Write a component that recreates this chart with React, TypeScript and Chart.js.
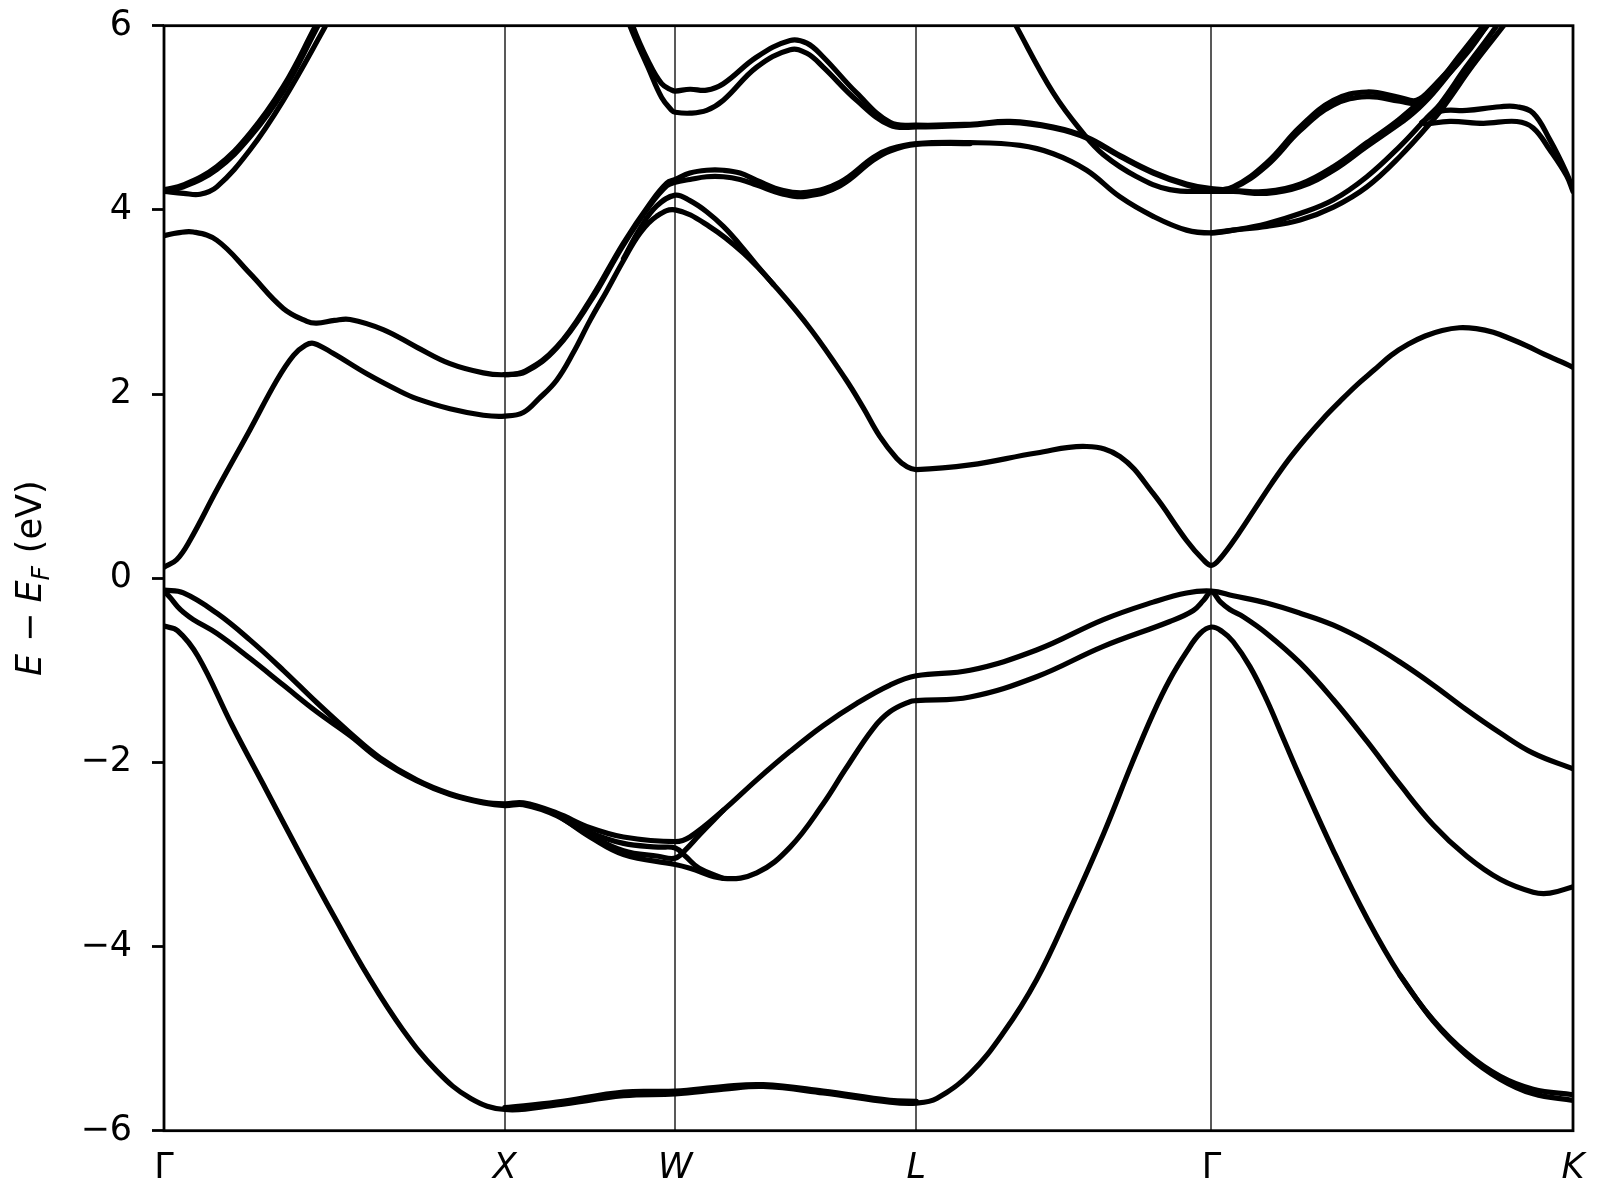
import React, { useEffect, useRef } from 'react';
import { Chart, registerables } from 'chart.js';

Chart.register(...registerables);

// High-symmetry path (k in units of 2π/a, fcc Γ-X-W-L-Γ-K)
const K_LABELS = ['Γ', 'X', 'W', 'L', 'Γ', 'K'];
const K_TICKS = [0, 1, 1.5, 2.2071, 3.0731, 4.1338];
const Y_TICKS = [-6, -4, -2, 0, 2, 4, 6];

type Pt = [number, number];

// ---- valence bands ----
const vbSplitOff: Pt[] = [[0,-0.52],[0.04,-0.57],[0.1,-0.85],[0.2,-1.6],[0.3,-2.3],[0.4,-3.0],[0.5,-3.68],[0.6,-4.33],[0.7,-4.9],[0.8,-5.35],[0.9,-5.65],[1.0,-5.77],[1.152,-5.72],[1.348,-5.62],[1.5,-5.6],[1.641,-5.55],[1.758,-5.52],[1.934,-5.59],[2.13,-5.69],[2.2071,-5.7],[2.267,-5.65],[2.365,-5.38],[2.462,-4.94],[2.56,-4.36],[2.658,-3.6],[2.756,-2.78],[2.841,-2.0],[2.902,-1.47],[2.951,-1.1],[3.0,-0.8],[3.04,-0.6],[3.0731,-0.53],[3.105,-0.58],[3.137,-0.69],[3.186,-0.96],[3.235,-1.32],[3.284,-1.74],[3.333,-2.16],[3.431,-2.96],[3.529,-3.69],[3.626,-4.31],[3.724,-4.8],[3.822,-5.16],[3.92,-5.41],[4.017,-5.55],[4.1338,-5.61]];
const vbSplitOffXL: Pt[] = [[1.0,-5.75],[1.152,-5.69],[1.348,-5.58],[1.5,-5.57],[1.641,-5.52],[1.758,-5.5],[1.934,-5.57],[2.13,-5.67],[2.2071,-5.68]];
const vbSplitOffK: Pt[] = [[3.626,-4.31],[3.724,-4.81],[3.822,-5.18],[3.92,-5.44],[4.017,-5.6],[4.1338,-5.67]];
const vbHeavy: Pt[] = [[0,-0.13],[0.057,-0.16],[0.155,-0.38],[0.252,-0.67],[0.35,-1.0],[0.448,-1.35],[0.546,-1.68],[0.634,-1.95],[0.741,-2.19],[0.839,-2.34],[0.937,-2.43],[1.0,-2.45],[1.054,-2.44],[1.152,-2.55],[1.25,-2.71],[1.348,-2.81],[1.5,-2.86],[1.543,-2.81],[1.641,-2.52],[1.739,-2.19],[1.837,-1.88],[1.934,-1.6],[2.032,-1.36],[2.13,-1.16],[2.2071,-1.06],[2.365,-1.0],[2.56,-0.78],[2.756,-0.45],[2.902,-0.26],[3.0,-0.16],[3.0731,-0.14],[3.137,-0.19],[3.235,-0.27],[3.333,-0.38],[3.431,-0.51],[3.529,-0.69],[3.626,-0.91],[3.724,-1.16],[3.822,-1.43],[3.92,-1.68],[4.017,-1.9],[4.1338,-2.07]];
const vbLight: Pt[] = [[0,-0.14],[0.018,-0.21],[0.04,-0.31],[0.057,-0.37],[0.086,-0.45],[0.155,-0.6],[0.252,-0.87],[0.35,-1.16],[0.448,-1.45],[0.546,-1.71],[0.634,-1.97],[0.741,-2.2],[0.839,-2.35],[0.937,-2.44],[1.0,-2.47],[1.054,-2.46],[1.152,-2.58],[1.25,-2.81],[1.348,-3.0],[1.5,-3.11],[1.543,-3.15],[1.641,-3.26],[1.739,-3.2],[1.837,-2.92],[1.934,-2.45],[2.0,-2.07],[2.081,-1.63],[2.13,-1.45],[2.189,-1.34],[2.2071,-1.33],[2.365,-1.29],[2.56,-1.07],[2.756,-0.74],[2.951,-0.47],[3.02,-0.35],[3.05,-0.24],[3.0731,-0.15],[3.1,-0.26],[3.127,-0.34],[3.167,-0.42],[3.235,-0.6],[3.333,-0.92],[3.431,-1.32],[3.529,-1.77],[3.626,-2.24],[3.724,-2.68],[3.822,-3.02],[3.92,-3.27],[4.017,-3.41],[4.066,-3.42],[4.1338,-3.35]];
const vbMidA: Pt[] = [[1.152,-2.56],[1.25,-2.76],[1.348,-2.88],[1.45,-2.92],[1.5,-2.93],[1.53,-3.02],[1.57,-3.15],[1.641,-3.26]];
const vbMidB: Pt[] = [[1.152,-2.57],[1.25,-2.79],[1.348,-2.96],[1.45,-3.02],[1.5,-3.04],[1.53,-2.95],[1.57,-2.79],[1.641,-2.52]];

// ---- conduction bands ----
const cbLow: Pt[] = [[0,0.12],[0.037,0.2],[0.076,0.41],[0.155,0.96],[0.252,1.61],[0.331,2.15],[0.38,2.42],[0.415,2.53],[0.44,2.55],[0.497,2.44],[0.595,2.22],[0.692,2.03],[0.741,1.95],[0.839,1.84],[0.937,1.77],[1.0,1.76],[1.054,1.8],[1.1,1.95],[1.152,2.15],[1.201,2.45],[1.25,2.8],[1.299,3.12],[1.348,3.45],[1.397,3.75],[1.445,3.93],[1.5,4.0],[1.6,3.82],[1.7,3.53],[1.8,3.14],[1.9,2.69],[2.0,2.16],[2.05,1.86],[2.1,1.54],[2.15,1.3],[2.18,1.21],[2.2071,1.18],[2.365,1.23],[2.56,1.36],[2.707,1.43],[2.805,1.32],[2.902,0.92],[3.0,0.41],[3.049,0.2],[3.0731,0.14],[3.1,0.22],[3.15,0.47],[3.2,0.75],[3.25,1.03],[3.3,1.29],[3.35,1.52],[3.4,1.73],[3.45,1.92],[3.5,2.1],[3.55,2.26],[3.6,2.42],[3.65,2.54],[3.7,2.63],[3.75,2.69],[3.8,2.72],[3.85,2.71],[3.9,2.67],[3.95,2.6],[4.0,2.52],[4.05,2.43],[4.1,2.35],[4.1338,2.29]];
const cbLowW: Pt[] = [[1.348,3.47],[1.397,3.8],[1.445,4.04],[1.5,4.16],[1.543,4.1],[1.592,3.98],[1.641,3.82],[1.69,3.62],[1.739,3.4],[1.788,3.19]];
const cbUpA: Pt[] = [[0,3.72],[0.04,3.75],[0.086,3.76],[0.155,3.67],[0.252,3.31],[0.35,2.93],[0.419,2.79],[0.448,2.77],[0.5,2.8],[0.546,2.81],[0.643,2.7],[0.741,2.51],[0.839,2.33],[0.937,2.23],[1.0,2.21],[1.06,2.25],[1.152,2.51],[1.25,3.02],[1.348,3.64],[1.426,4.07],[1.475,4.29],[1.5,4.33],[1.543,4.4],[1.592,4.43],[1.641,4.43],[1.69,4.4],[1.739,4.32],[1.817,4.21],[1.886,4.19],[1.983,4.3],[2.081,4.57],[2.13,4.66],[2.2071,4.72],[2.365,4.73],[2.512,4.7],[2.609,4.61],[2.707,4.43],[2.805,4.14],[2.902,3.93],[3.0,3.78],[3.0731,3.75],[3.137,3.78],[3.235,3.85],[3.333,3.96],[3.431,4.11],[3.529,4.36],[3.626,4.69],[3.705,5.0],[3.744,5.15],[3.82,5.55],[3.91,6.0],[3.95,6.25]];
const cbUpB: Pt[] = [[1.0,2.21],[1.06,2.24],[1.152,2.5],[1.25,3.0],[1.348,3.62],[1.426,4.05],[1.475,4.26],[1.5,4.3],[1.543,4.33],[1.592,4.36],[1.641,4.36],[1.69,4.33],[1.739,4.27],[1.817,4.17],[1.886,4.15],[1.983,4.26],[2.081,4.54],[2.13,4.64],[2.2071,4.71],[2.365,4.72]];
const cbUpK: Pt[] = [[3.0731,3.75],[3.137,3.78],[3.235,3.82],[3.333,3.89],[3.431,4.03],[3.529,4.25],[3.626,4.58],[3.724,4.98],[3.76,5.15],[3.84,5.57],[3.93,6.0],[3.97,6.2]];
const cbGammaLeftA: Pt[] = [[0,4.22],[0.057,4.27],[0.155,4.47],[0.252,4.83],[0.35,5.34],[0.438,5.95],[0.46,6.12]];
const cbGammaLeftB: Pt[] = [[0,4.21],[0.057,4.25],[0.155,4.44],[0.252,4.79],[0.35,5.29],[0.445,5.95],[0.465,6.1]];
const cbGammaLeftC: Pt[] = [[0,4.2],[0.057,4.18],[0.106,4.17],[0.155,4.25],[0.252,4.65],[0.35,5.19],[0.467,5.95],[0.49,6.12]];
const cbTopA: Pt[] = [[1.36,6.12],[1.367,6.0],[1.42,5.55],[1.46,5.22],[1.49,5.08],[1.5,5.06],[1.543,5.05],[1.592,5.08],[1.641,5.19],[1.739,5.55],[1.837,5.74],[1.886,5.7],[1.934,5.55],[2.032,5.19],[2.13,4.92],[2.2071,4.9],[2.365,4.92],[2.482,4.95],[2.609,4.89],[2.707,4.78],[2.805,4.58],[2.902,4.4],[3.0,4.27],[3.0731,4.22],[3.137,4.25],[3.235,4.51],[3.333,4.9],[3.431,5.19],[3.529,5.28],[3.626,5.22],[3.675,5.19],[3.724,5.34],[3.822,5.74],[3.871,6.0],[3.9,6.2]];
const cbTopB: Pt[] = [[1.37,6.12],[1.375,6.0],[1.42,5.62],[1.46,5.37],[1.49,5.3],[1.5,5.29],[1.543,5.31],[1.592,5.3],[1.641,5.37],[1.739,5.66],[1.837,5.84],[1.886,5.81],[1.934,5.66],[2.032,5.27],[2.13,4.95],[2.2071,4.92],[2.365,4.93],[2.482,4.96],[2.609,4.9],[2.707,4.79],[2.805,4.59],[2.902,4.41],[3.0,4.28],[3.0731,4.23],[3.137,4.24],[3.235,4.48],[3.333,4.86],[3.431,5.14],[3.529,5.23],[3.626,5.18],[3.675,5.16],[3.724,5.3],[3.822,5.7],[3.88,6.0],[3.91,6.2]];
const cbSteep: Pt[] = [[2.48,6.15],[2.501,5.99],[2.609,5.27],[2.697,4.83],[2.756,4.6],[2.854,4.36],[2.951,4.22],[3.0731,4.2],[3.137,4.2],[3.235,4.18],[3.333,4.25],[3.431,4.43],[3.529,4.69],[3.626,4.94],[3.665,5.05],[3.724,5.27],[3.802,5.63],[3.88,5.99],[3.91,6.15]];
const cbSteepK: Pt[] = [[3.0731,4.21],[3.137,4.21],[3.235,4.2],[3.333,4.28],[3.431,4.47],[3.529,4.73],[3.626,4.99],[3.724,5.32],[3.802,5.68],[3.87,6.0],[3.9,6.15]];
const cbFlatKA: Pt[] = [[3.69,4.95],[3.744,5.07],[3.822,5.08],[3.92,5.12],[3.969,5.12],[4.017,5.05],[4.066,4.76],[4.115,4.4],[4.1338,4.22]];
const cbFlatKB: Pt[] = [[3.7,4.93],[3.773,4.96],[3.871,4.94],[3.969,4.96],[4.017,4.89],[4.066,4.65],[4.115,4.37],[4.1338,4.2]];

const BANDS: Pt[][] = [
  vbSplitOff, vbSplitOffXL, vbSplitOffK, vbHeavy, vbLight, vbMidA, vbMidB,
  cbLow, cbLowW, cbUpA, cbUpB, cbUpK, cbGammaLeftA, cbGammaLeftB, cbGammaLeftC,
  cbTopA, cbTopB, cbSteep, cbSteepK, cbFlatKA, cbFlatKB,
];

const FONT = '"DejaVu Sans", "Liberation Sans", sans-serif';

const framePlugin = {
  id: 'frame',
  afterDraw(chart: any) {
    const { ctx, chartArea: a } = chart;
    ctx.save();
    ctx.strokeStyle = '#000';
    ctx.lineWidth = 2.8;
    ctx.strokeRect(a.left, a.top, a.right - a.left, a.bottom - a.top);
    ctx.restore();
  },
};

// y-axis title "E − E_F (eV)" (italic E, subscript F)
const yTitlePlugin = {
  id: 'yTitle',
  afterDraw(chart: any) {
    const { ctx, chartArea: a } = chart;
    const size = 35;
    const it = `italic ${size}px ${FONT}`;
    const rm = `${size}px ${FONT}`;
    const parts = [
      { t: 'E', f: it, dy: 0, gap: 12 },
      { t: '\u2212', f: rm, dy: 0, gap: 10 },
      { t: 'E', f: it, dy: 0, gap: 0 },
      { t: 'F', f: `italic ${Math.round(size * 0.7)}px ${FONT}`, dy: size * 0.22, gap: 13 },
      { t: '(eV)', f: rm, dy: 0, gap: 0 },
    ];
    ctx.save();
    ctx.fillStyle = '#000';
    ctx.textBaseline = 'alphabetic';
    ctx.textAlign = 'left';
    let total = 0;
    const widths = parts.map((p) => {
      ctx.font = p.f;
      const w = ctx.measureText(p.t).width + p.gap;
      total += w;
      return w;
    });
    const cy = (a.top + a.bottom) / 2;
    ctx.translate(41, cy);
    ctx.rotate(-Math.PI / 2);
    let x = -total / 2;
    parts.forEach((p, i) => {
      ctx.font = p.f;
      ctx.fillText(p.t, x, p.dy);
      x += widths[i];
    });
    ctx.restore();
  },
};

export default function App() {
  const ref = useRef<HTMLCanvasElement>(null);

  useEffect(() => {
    if (!ref.current) return;
    const chart = new Chart(ref.current, {
      type: 'line',
      data: {
        datasets: BANDS.map((b) => ({
          data: b.map(([x, y]) => ({ x, y })),
          borderColor: '#000',
          borderWidth: 5.2,
          pointRadius: 0,
          fill: false,
          tension: 0.4,
          borderCapStyle: 'round' as const,
          borderJoinStyle: 'round' as const,
          clip: 0,
        })),
      },
      options: {
        responsive: false,
        animation: false,
        devicePixelRatio: 1,
        layout: { padding: { left: 0, right: 27, top: 25.7, bottom: 0 } },
        plugins: { legend: { display: false }, tooltip: { enabled: false }, title: { display: false } },
        scales: {
          x: {
            type: 'linear',
            min: 0,
            max: 4.1338,
            afterBuildTicks: (s: any) => {
              s.ticks = K_TICKS.map((v) => ({ value: v }));
            },
            afterFit: (s: any) => {
              s.height = 69.3;
              s.paddingLeft = 0;
              s.paddingRight = 0;
              s.paddingTop = 0;
              s.paddingBottom = 0;
            },
            ticks: {
              autoSkip: false,
              maxRotation: 0,
              minRotation: 0,
              padding: 17,
              color: '#000',
              callback: (_v: any, i: number) => K_LABELS[i],
              font: (c: any) => ({
                family: FONT,
                size: 35,
                style: K_LABELS[c.index] === 'Γ' ? 'normal' : 'italic',
              }),
            },
            grid: {
              drawTicks: false,
              lineWidth: 2,
              color: (c: any) =>
                c.index === 0 || c.index === K_TICKS.length - 1 ? 'rgba(0,0,0,0)' : '#595959',
            },
            border: { display: false },
          },
          y: {
            type: 'linear',
            min: -6,
            max: 6,
            afterBuildTicks: (s: any) => {
              s.ticks = Y_TICKS.map((v) => ({ value: v }));
            },
            afterFit: (s: any) => {
              s.width = 164;
              s.paddingTop = 0;
              s.paddingBottom = 0;
              s.paddingLeft = 0;
              s.paddingRight = 0;
            },
            ticks: {
              padding: 20,
              color: '#000',
              font: { family: FONT, size: 35 },
              callback: (v: any) => (Number(v) < 0 ? '\u2212' + Math.abs(Number(v)) : String(v)),
            },
            grid: {
              drawOnChartArea: false,
              drawTicks: true,
              tickLength: 12,
              tickWidth: 2.8,
              tickColor: '#000',
            },
            border: { display: false },
          },
        },
      },
      plugins: [framePlugin, yTitlePlugin],
    } as any);
    return () => chart.destroy();
  }, []);

  return (
    <div style={{ position: 'absolute', left: 0, top: 0, width: 1600, height: 1200, background: '#fff' }}>
      <canvas ref={ref} width={1600} height={1200} style={{ display: 'block', width: 1600, height: 1200 }} />
    </div>
  );
}
